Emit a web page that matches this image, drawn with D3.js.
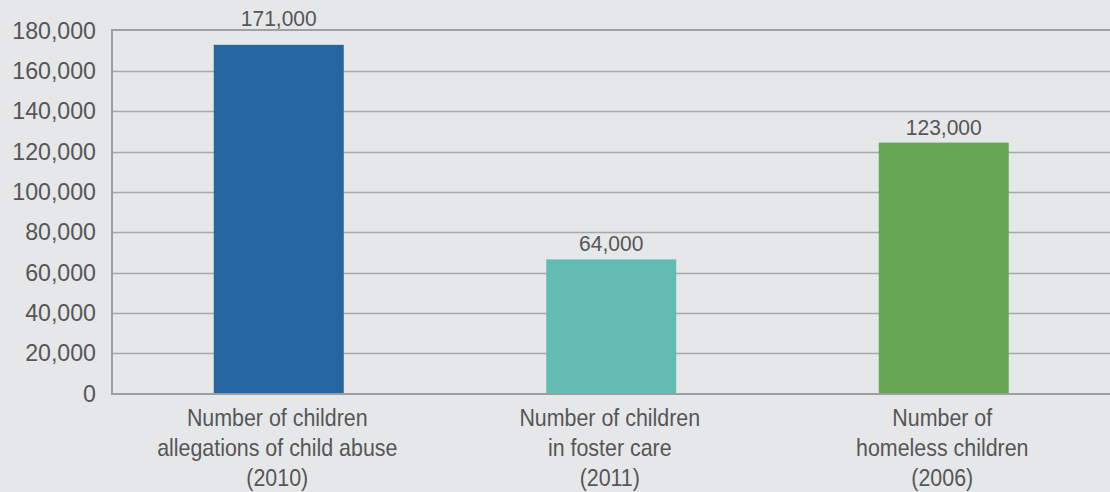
<!DOCTYPE html>
<html>
<head>
<meta charset="utf-8">
<script src="https://cdn.jsdelivr.net/npm/d3@7"></script>
<style>
  html, body { margin: 0; padding: 0; background: #e6e7e8; }
  svg { display: block; }
  text { font-family: "Liberation Sans", Arial, sans-serif; fill: #555657; }
</style>
</head>
<body>
<svg id="chart" width="1110" height="492"></svg>
<script>
const categories = [
  ["Number of children", "allegations of child abuse", "(2010)"],
  ["Number of children", "in foster care", "(2011)"],
  ["Number of", "homeless children", "(2006)"]
];
const barValues = [172900, 66500, 124400];
const valueLabels = ["171,000", "64,000", "123,000"];
const tickValues = [0, 20000, 40000, 60000, 80000, 100000, 120000, 140000, 160000, 180000];
const colors = ["#2566a0", "#62bcb4", "#66a756"];

(function () {
const W = 1110, H = 492;
const svg = d3.select("#chart");
svg.append("rect").attr("width", W).attr("height", H).attr("fill", "#e6e7e8");

const plotLeft = 112, plotTop = 30.5, plotBottom = 393.5;
const x = d3.scaleBand().domain(d3.range(categories.length)).range([112.5, 1110])
  .paddingInner(0.609).paddingOuter(0.3045);
const y = d3.scaleLinear().domain([0, 180000]).range([plotBottom, plotTop]);

// gridlines
svg.append("g").selectAll("line").data(tickValues.filter(v => v > 0 && v < 180000)).join("line")
  .attr("x1", plotLeft).attr("x2", W)
  .attr("y1", d => Math.round(y(d)) + 0.5).attr("y2", d => Math.round(y(d)) + 0.5)
  .attr("stroke", "#a7a8a9").attr("stroke-width", 1.5);

// bars
svg.append("g").selectAll("rect").data(barValues).join("rect")
  .attr("x", (d, i) => x(i)).attr("width", x.bandwidth())
  .attr("y", d => y(d)).attr("height", d => y(0) - y(d))
  .attr("fill", (d, i) => colors[i]);

// top line and spines
svg.append("line").attr("x1", plotLeft - 1).attr("x2", W).attr("y1", 30).attr("y2", 30)
  .attr("stroke", "#a0a1a2").attr("stroke-width", 2);
svg.append("line").attr("x1", plotLeft).attr("x2", plotLeft).attr("y1", 29).attr("y2", 395)
  .attr("stroke", "#9d9e9f").attr("stroke-width", 2);
svg.append("line").attr("x1", plotLeft - 1).attr("x2", W).attr("y1", 394).attr("y2", 394)
  .attr("stroke", "#9d9e9f").attr("stroke-width", 2);

// y tick labels (slightly condensed)
svg.append("g").selectAll("text").data(tickValues).join("text")
  .attr("transform", d => `translate(96,${y(d) + 8}) scale(0.95,1)`)
  .attr("text-anchor", "end").attr("font-size", 24.4)
  .text(d => d3.format(",")(d));

// value labels
svg.append("g").selectAll("text").data(barValues).join("text")
  .attr("transform", (d, i) => {
    let b = y(d) - 8;
    if (b - 16 < plotTop) b = plotTop - 4.5;
    return `translate(${x(i) + x.bandwidth() / 2},${b}) scale(0.93,1)`;
  })
  .attr("text-anchor", "middle").attr("font-size", 22.6)
  .text((d, i) => valueLabels[i]);

// category labels
const cat = svg.append("g").selectAll("text").data(categories).join("text")
  .attr("transform", (d, i) => `translate(${x(i) + x.bandwidth() / 2 - 1.5},0) scale(0.87,1)`)
  .attr("text-anchor", "middle").attr("font-size", 24.6);
cat.each(function(lines) {
  const t = d3.select(this);
  lines.forEach((ln, j) => {
    t.append("tspan").attr("x", 0).attr("y", 426.5 + j * 29.7).text(ln);
  });
});
})();
</script>
</body>
</html>
